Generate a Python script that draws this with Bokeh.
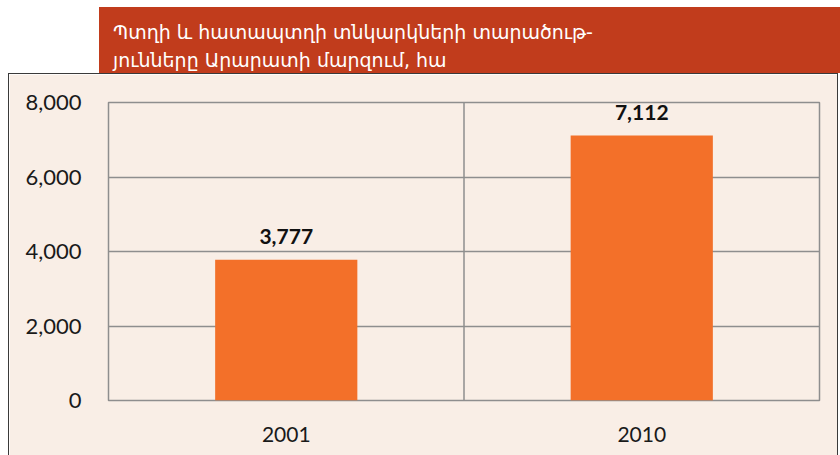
from bokeh.plotting import figure
from bokeh.layouts import column
from bokeh.models import (Range1d, FactorRange, Span, NumeralTickFormatter, FixedTicker,
                          ColumnDataSource, Div)
from bokeh.core.properties import value
from bokeh.embed import file_html
from bokeh.resources import INLINE

years = ["2001", "2010"]
areas = [3777, 7112]
y_ticks = [0, 2000, 4000, 6000, 8000]
title_lines = ["Պտղի և հատապտղի տնկարկների տարածութ-", "յունները Արարատի մարզում, հա"]

BANNER = "#C13C1C"
PANEL = "#F9EEE6"
BAR = "#F37029"
GRID = "#8E8E8E"
EDGE = "#3a3a3a"

# ---- banner (title) ----
banner_html = (
    f'<div style="margin:7px 0 0 99px; width:741px; height:66px; box-sizing:border-box; '
    f'padding:11px 0 0 14px; background:{BANNER}; color:white; '
    f'font-family:\'DejaVu Sans\', sans-serif; font-size:19px; line-height:28px; '
    f'white-space:nowrap;">' + "<br>".join(title_lines) + "</div>"
)
banner = Div(text=banner_html, width=840, height=73, margin=(0, 0, 0, 0),
             styles={"background": "white", "overflow": "hidden"})

# ---- chart ----
src = ColumnDataSource(dict(years=years, areas=areas, labels=[f"{v:,}" for v in areas]))
p = figure(x_range=FactorRange(*years), y_range=Range1d(0, 8000), width=830, height=382,
           output_backend="svg", toolbar_location=None,
           min_border_left=99, min_border_right=20, min_border_top=28, min_border_bottom=56)
p.margin = (0, 2, 0, 8)
p.styles = {"border-left": f"1px solid {EDGE}", "border-top": f"1px solid {EDGE}",
            "border-right": f"1px solid {EDGE}", "box-sizing": "border-box"}
p.background_fill_color = PANEL
p.border_fill_color = PANEL
p.outline_line_color = GRID
p.outline_line_width = 1.5

p.vbar(x="years", top="areas", width=0.4, source=src, fill_color=BAR, line_color=None)
p.text(x="years", y="areas", text="labels", source=src, text_align="center",
       text_baseline="middle", y_offset=-23, text_font=value("Lato"),
       text_font_style="bold", text_font_size="21px", text_color="#111111")

p.xgrid.grid_line_color = None
p.add_layout(Span(location=1, dimension="height", line_color=GRID, line_width=1.5))
p.ygrid.ticker = FixedTicker(ticks=y_ticks)
p.ygrid.grid_line_color = GRID
p.ygrid.grid_line_width = 1.5

p.yaxis.ticker = FixedTicker(ticks=y_ticks)
p.yaxis.formatter = NumeralTickFormatter(format="0,0")
p.yaxis.axis_line_color = None
p.yaxis.major_tick_line_color = None
p.yaxis.minor_tick_line_color = None
p.yaxis.major_tick_out = 0
p.yaxis.minor_tick_out = 0
p.yaxis.major_label_standoff = 27
p.yaxis.major_label_text_font = "Lato"
p.yaxis.major_label_text_font_size = "22px"
p.yaxis.major_label_text_color = "#1a1a1a"

p.xaxis.axis_line_color = None
p.xaxis.major_tick_line_color = None
p.xaxis.major_tick_out = 0
p.xaxis.major_label_standoff = 26
p.xaxis.major_label_text_font = "Lato"
p.xaxis.major_label_text_font_size = "21px"
p.xaxis.major_label_text_color = "#1a1a1a"

layout = column(banner, p, spacing=0)
open("out.html", "w").write(file_html(layout, INLINE))
